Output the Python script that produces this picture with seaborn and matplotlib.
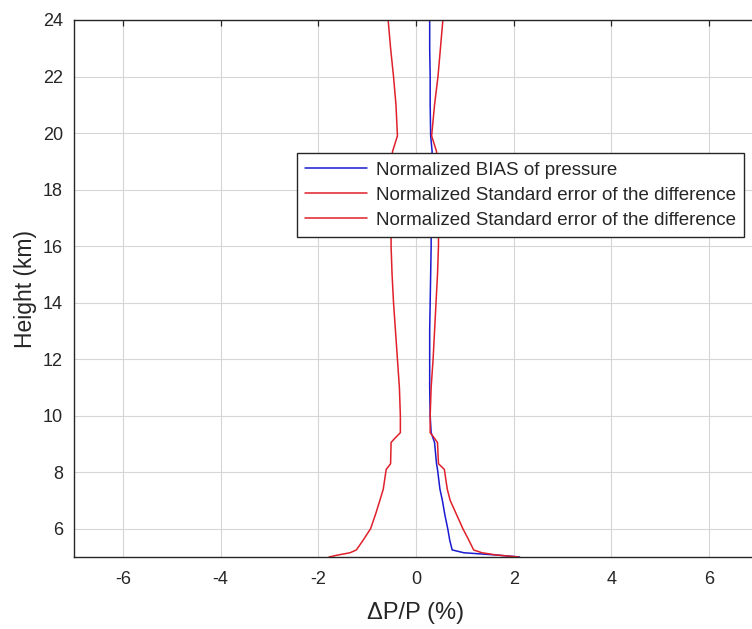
import numpy as np
import pandas as pd
import matplotlib
matplotlib.use("Agg")
import matplotlib.pyplot as plt
import seaborn as sns

# ---- data ----
heights = [5.0, 5.07, 5.15, 5.25, 5.6, 6.0, 6.5, 7.0, 7.4, 8.1, 8.3, 9.05, 9.15,
           9.4, 10, 11, 12, 13, 14, 15, 16, 17, 18, 19, 19.35, 19.9, 21, 22, 23, 24]
bias = [2.12, 1.65, 0.98, 0.74, 0.69, 0.65, 0.59, 0.54, 0.49, 0.44, 0.42, 0.38, 0.36,
        0.31, 0.29, 0.28, 0.28, 0.28, 0.29, 0.30, 0.31, 0.31, 0.31, 0.32, 0.33, 0.30,
        0.29, 0.29, 0.28, 0.28]
std_plus = [2.10, 1.65, 1.35, 1.18, 1.08, 0.96, 0.83, 0.70, 0.64, 0.58, 0.46, 0.44, 0.40,
            0.29, 0.29, 0.31, 0.35, 0.38, 0.41, 0.44, 0.46, 0.46, 0.45, 0.44, 0.42, 0.32,
            0.38, 0.45, 0.50, 0.55]
std_minus = [-1.78, -1.60, -1.35, -1.22, -1.08, -0.93, -0.83, -0.74, -0.67, -0.61, -0.52,
             -0.51, -0.46, -0.32, -0.32, -0.34, -0.38, -0.42, -0.46, -0.49, -0.51, -0.51,
             -0.51, -0.50, -0.48, -0.38, -0.41, -0.46, -0.52, -0.57]
series_labels = ["Normalized BIAS of pressure",
                 "Normalized Standard error of the difference",
                 "Normalized Standard error of the difference"]
x_ticks = [-6, -4, -2, 0, 2, 4, 6]
y_ticks = [6, 8, 10, 12, 14, 16, 18, 20, 22, 24]

sns.set_style("white")
plt.rcParams['font.family'] = ['Liberation Sans', 'DejaVu Sans']
plt.rcParams['axes.unicode_minus'] = False

df = pd.DataFrame({"h": heights, "bias": bias, "sp": std_plus, "sm": std_minus})

fig = plt.figure(figsize=(7.52, 6.29), dpi=100)
ax = fig.add_axes([74/752, 72/629, (758-74)/752, (557-20)/629])

blue = "#1a1ad0"
red = "#e0202a"
sns.lineplot(data=df, x="bias", y="h", sort=False, estimator=None, ax=ax,
             color=blue, lw=1.1, label=series_labels[0])
sns.lineplot(data=df, x="sp", y="h", sort=False, estimator=None, ax=ax,
             color=red, lw=1.1, label=series_labels[1])
sns.lineplot(data=df, x="sm", y="h", sort=False, estimator=None, ax=ax,
             color=red, lw=1.1, label=series_labels[2])

ax.set_xlim(-7, 7)
ax.set_ylim(5, 24)
ax.set_xticks(x_ticks)
ax.set_yticks(y_ticks)
ax.grid(True, color="#d6d6d6", lw=0.8)
ax.set_axisbelow(True)
for s in ax.spines.values():
    s.set_color("#262626")
    s.set_linewidth(1.0)
    s.set_visible(True)
ax.tick_params(direction="in", length=4.5, width=0.9, top=True, right=True,
               labelsize=13, colors="#262626", pad=8)
ax.tick_params(axis="x", pad=10)
ax.set_xlabel("ΔP/P (%)", fontsize=17, color="#262626", labelpad=10)
ax.set_ylabel("Height (km)", fontsize=16.5, color="#262626", labelpad=4)

leg = ax.legend(loc="upper left", bbox_to_anchor=(297/752, 1-153/629),
                bbox_transform=fig.transFigure, borderaxespad=0, fontsize=13.5,
                frameon=True, fancybox=False, shadow=False, framealpha=1,
                edgecolor="#262626", handlelength=3.3, handletextpad=0.45,
                labelspacing=0.42, borderpad=0.45)
leg.get_frame().set_linewidth(1.0)
for t in leg.get_texts():
    t.set_color("#262626")

fig.savefig("out.png", dpi=100)
